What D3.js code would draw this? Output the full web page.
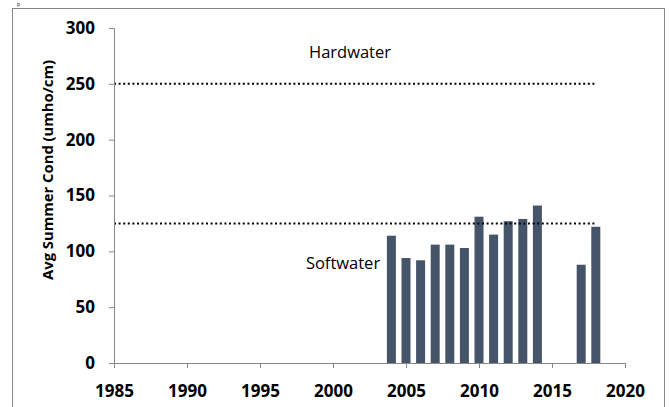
<!DOCTYPE html>
<html>
<head>
<meta charset="utf-8">
<script src="https://cdn.jsdelivr.net/npm/d3@7"></script>
<style>
  body { margin: 0; background: #fff; }
  svg { display: block; font-family: "Open Sans", "DejaVu Sans", sans-serif; }
</style>
</head>
<body>
<div class="chart"></div>
<script>
// data
var years = [2004, 2005, 2006, 2007, 2008, 2009, 2010, 2011, 2012, 2013, 2014, 2017, 2018];
var cond = [114, 94, 92, 106, 106, 103, 131, 115, 127, 129, 141, 88, 122];
var xTicks = [1985, 1990, 1995, 2000, 2005, 2010, 2015, 2020];
var yTicks = [0, 50, 100, 150, 200, 250, 300];
var thresholds = [250, 125];
var thresholdSpan = [1985, 2018];

var width = 670, height = 407;
var plot = { left: 114, right: 625, top: 28, bottom: 363 };

var svg = d3.select(".chart").append("svg")
    .attr("width", width)
    .attr("height", height);

// outer chart frame
svg.append("rect")
    .attr("x", 12.5).attr("y", 8.5)
    .attr("width", 652).attr("height", 420)
    .attr("fill", "none")
    .attr("stroke", "#888");

// title fragment at the very top (mostly outside the crop in the reference)
svg.append("text")
    .attr("x", 17).attr("y", 6)
    .style("font-size", "5px")
    .text("p");

var x = d3.scaleLinear().domain([1985, 2020]).range([plot.left, plot.right]);
var y = d3.scaleLinear().domain([0, 300]).range([plot.bottom, plot.top]);
var barW = 9;

//Bars
svg.selectAll("rect.bar")
    .data(years)
    .enter().append("rect")
    .attr("class", "bar")
    .attr("x", (d) => x(d) - barW / 2)
    .attr("y", (d, i) => y(cond[i]))
    .attr("width", barW)
    .attr("height", (d, i) => y(0) - y(cond[i]))
    .attr("fill", "#465469");

//Threshold lines
svg.selectAll("line.limit")
    .data(thresholds)
    .enter().append("line")
    .attr("class", "limit")
    .attr("x1", x(thresholdSpan[0]))
    .attr("x2", x(thresholdSpan[1]))
    .attr("y1", (d) => y(d))
    .attr("y2", (d) => y(d))
    .attr("stroke", "#000")
    .attr("stroke-width", 2)
    .attr("stroke-dasharray", "2,2.6");

//Axes
var yAxis = svg.append("g")
    .attr("transform", "translate(" + plot.left + ",0)")
    .call(d3.axisLeft(y).tickValues(yTicks).tickSize(5).tickPadding(14).tickFormat(d3.format("d")));
var xAxis = svg.append("g")
    .attr("transform", "translate(0," + plot.bottom + ")")
    .call(d3.axisBottom(x).tickValues(xTicks).tickSize(5).tickPadding(17).tickFormat(d3.format("d")));

[yAxis, xAxis].forEach((g) => {
    g.select(".domain").attr("stroke", "#888");
    g.selectAll(".tick line").attr("stroke", "#888");
    g.selectAll(".tick text")
        .attr("fill", "#000")
        .style("font-family", "'Open Sans', sans-serif")
        .style("font-size", "17px")
        .style("font-weight", "bold");
});

//Axis title
svg.append("text")
    .attr("transform", "translate(53,170) rotate(-90)")
    .attr("text-anchor", "middle")
    .style("font-size", "14.8px")
    .style("font-weight", "bold")
    .text("Avg Summer Cond (umho/cm)");

//Zone labels
svg.append("text")
    .attr("x", 350).attr("y", 58)
    .attr("text-anchor", "middle")
    .style("font-size", "16.5px")
    .text("Hardwater");
svg.append("text")
    .attr("x", 343).attr("y", 269)
    .attr("text-anchor", "middle")
    .style("font-size", "16.5px")
    .text("Softwater");
</script>
</body>
</html>
